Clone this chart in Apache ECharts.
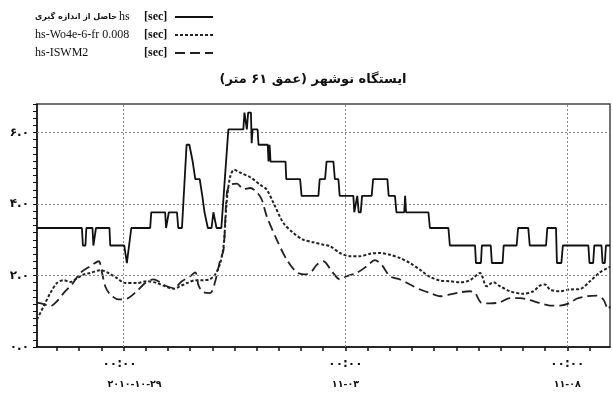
<!DOCTYPE html>
<html dir="ltr">
<head>
<meta charset="utf-8">
<script src="https://cdn.jsdelivr.net/npm/echarts@6/dist/echarts.min.js"></script>
<style>html,body{margin:0;padding:0;background:#fff}#c{width:613px;height:394px}</style>
</head>
<body>
<div id="c"></div>
<script>
// ---- text ----
const titleText = 'ایستگاه نوشهر (عمق ۶۱ متر)';
const seriesNames = ['hs حاصل از اندازه گیری', 'hs-Wo4e-6-fr 0.008', 'hs-ISWM2'];
const unitLabel = '[sec]';
// x values: hours relative to 2010-10-29 00:00
const xMin = -46.8, xMax = 263.1;
const xLabelHours = [0, 120, 240];
const xLabelTime = '۰۰:۰۰';
const xLabelDates = ['۲۰۱۰-۱۰-۲۹', '۱۱-۰۳', '۱۱-۰۸'];
const yMin = 0, yMax = 6.8;
const yLabelValues = [0, 2, 4, 6];

// ---- measured (solid) ----
const measuredHours = [-46.8,-22.5,-22.0,-20.6,-20.1,-16.8,-16.3,-15.4,-14.9,-7.6,-7.2,0.4,1.8,4.2,14.4,15.0,22.5,23.0,24.0,24.5,28.9,29.6,31.6,34.1,35.6,37.4,38.8,41.2,42.6,43.8,45.6,47.6,48.6,49.6,50.3,52.9,56.7,64.8,65.4,66.2,66.7,67.4,68.9,69.3,69.8,72.5,73.0,78.0,78.4,79.0,79.5,87.6,88.0,95.5,96.3,105.4,106.1,109.0,109.8,113.5,114.3,116.2,116.9,124.3,124.8,125.8,126.4,127.2,128.3,129.0,134.2,135.0,142.7,143.4,146.8,147.6,151.8,152.3,152.8,164.9,165.7,175.7,176.5,190.1,190.6,193.3,193.8,198.6,199.2,205.0,205.6,212.6,213.4,218.9,219.7,228.5,229.2,233.9,234.4,236.8,237.6,251.4,252.0,254.0,254.6,258.5,259.1,260.3,260.9,263.1];
const measuredValues = [3.33,3.33,2.84,2.84,3.33,3.33,2.84,2.84,3.33,3.33,2.84,2.84,2.35,3.33,3.33,3.77,3.77,3.33,3.33,3.77,3.77,3.33,3.33,5.66,5.66,5.19,4.70,4.70,4.23,3.77,3.33,3.33,3.77,3.77,3.33,3.33,6.09,6.09,6.56,6.56,6.09,6.56,6.56,5.70,6.09,6.09,5.66,5.66,5.19,5.66,5.19,5.19,4.70,4.70,4.23,4.23,4.70,4.70,5.19,5.19,4.70,4.70,4.23,4.23,3.77,3.77,4.23,3.77,3.77,4.23,4.23,4.70,4.70,4.23,4.23,3.77,3.77,4.23,3.77,3.77,3.33,3.33,2.84,2.84,2.35,2.35,2.84,2.84,2.35,2.35,2.84,2.84,3.33,3.33,2.84,2.84,3.33,3.33,2.35,2.35,2.84,2.84,2.35,2.35,2.84,2.84,2.35,2.35,2.84,2.84];

// ---- Wo4e model (fine dashes) ----
const wo4eHours = [-46.8,-43.2,-39.6,-36.0,-32.4,-28.8,-26.1,-21.6,-18.0,-12.6,-8.1,-3.6,0.9,7.2,12.6,18.0,22.5,27.0,30.6,34.3,38.8,43.3,46.9,49.6,52.3,54.1,55.9,57.7,59.8,63.1,68.5,73.9,77.5,81.1,86.5,91.9,97.3,102.7,108.1,111.7,117.1,122.5,127.9,133.3,138.7,144.1,149.5,154.9,160.4,165.8,171.2,176.6,182.0,187.4,192.8,196.4,200.0,203.6,209.0,216.2,221.6,225.2,227.9,230.6,236.0,241.4,246.8,252.3,257.7,263.1];
const wo4eValues = [0.77,1.14,1.51,1.79,1.87,1.82,1.89,2.03,2.07,2.15,2.07,1.93,1.79,1.79,1.84,1.79,1.70,1.63,1.70,1.79,1.87,1.87,1.90,2.03,2.35,2.82,4.12,4.77,4.96,4.88,4.75,4.54,4.40,4.03,3.47,3.19,3.00,2.93,2.86,2.82,2.63,2.54,2.54,2.61,2.63,2.58,2.49,2.35,2.16,1.96,1.86,1.84,1.81,1.87,2.07,1.70,1.81,1.70,1.56,1.49,1.56,1.72,1.75,1.61,1.56,1.61,1.62,1.84,2.09,2.24];

// ---- ISWM2 model (long dashes) ----
const iswmHours = [-46.8,-43.2,-39.6,-36.0,-32.4,-27.9,-23.4,-18.0,-13.5,-11.5,-9.9,-7.2,-2.7,1.8,7.2,11.7,16.2,19.8,23.4,27.0,31.6,36.0,38.8,40.6,43.3,46.9,49.6,52.3,54.1,55.9,57.7,61.3,64.9,68.5,72.1,74.8,77.5,82.9,88.3,93.7,98.2,101.8,104.5,108.1,112.6,117.1,120.7,126.1,131.5,136.0,139.6,144.1,149.5,154.9,160.4,165.8,171.2,176.6,182.0,187.4,190.1,193.7,198.2,203.6,209.0,214.4,219.8,225.2,230.6,236.0,241.4,245.0,250.4,255.9,259.5,262.2,263.1];
const iswmValues = [1.24,1.20,1.14,1.28,1.51,1.75,2.07,2.26,2.40,2.05,1.70,1.47,1.33,1.35,1.56,1.79,1.89,1.81,1.70,1.65,1.84,1.98,2.09,1.72,1.53,1.51,1.84,2.44,2.72,4.31,4.54,4.57,4.42,4.45,4.33,4.12,3.65,3.00,2.44,2.09,2.03,2.12,2.30,2.40,2.12,1.89,1.98,2.07,2.26,2.43,2.30,1.98,1.89,1.75,1.61,1.51,1.42,1.47,1.53,1.56,1.51,1.23,1.22,1.25,1.37,1.37,1.31,1.23,1.16,1.16,1.23,1.35,1.42,1.44,1.33,1.05,1.14];

const zip = (xs, ys) => xs.map((x, i) => [x, ys[i]]);
const fa = s => String(s).replace(/[0-9]/g, d => '۰۱۲۳۴۵۶۷۸۹'[d]);
const hasArabic = s => /[\u0600-\u06FF]/.test(s);
const xTickHours = [];
for (let h = -36; h <= 252; h += 12) xTickHours.push(h);

const chart = echarts.init(document.getElementById('c'), null, {renderer: 'canvas'});
const gridLineStyle = {color: '#8a8a8a', width: 1, type: [2, 2]};
chart.setOption({
  animation: false,
  backgroundColor: '#fff',
  title: {
    text: '\u200F' + titleText + '\u200F',
    left: 308, top: 68, textAlign: 'center',
    textStyle: {fontFamily: 'DejaVu Sans', fontWeight: 'bold', fontSize: 13, color: '#111'}
  },
  legend: {
    orient: 'vertical', left: 35, top: 11, align: 'right', padding: 0,
    itemWidth: 38, itemHeight: 13, itemGap: 6,
    itemStyle: {opacity: 0},
    data: seriesNames,
    formatter: name => {
      let body;
      if (hasArabic(name)) {
        const sp = name.indexOf(' ');
        body = '{a|' + name.slice(sp + 1) + '}{h|' + name.slice(0, sp) + '}';
      } else {
        body = '{n|' + name + '}';
      }
      return body + '{u|' + unitLabel + '}';
    },
    textStyle: {
      color: '#111', fontFamily: 'Liberation Serif', fontSize: 12,
      rich: {
        a: {width: 84, align: 'left', fontFamily: 'DejaVu Sans', fontWeight: 'bold', fontSize: 8, color: '#111'},
        h: {width: 25, align: 'left', fontFamily: 'Liberation Serif', fontSize: 12, color: '#111'},
        n: {width: 109, align: 'left', fontFamily: 'Liberation Serif', fontSize: 12, color: '#111'},
        u: {width: 26, align: 'left', fontFamily: 'Liberation Serif', fontSize: 12, fontWeight: 'bold', color: '#111'}
      }
    }
  },
  grid: {left: 37, right: 3, top: 104, bottom: 47, show: true, borderColor: '#444', borderWidth: 1.5, backgroundColor: 'transparent'},
  xAxis: {
    type: 'value', min: xMin, max: xMax,
    axisLine: {show: true, onZero: false, lineStyle: {color: '#111', width: 1.5}},
    axisTick: {show: true, length: 4, inside: false, customValues: xTickHours, lineStyle: {color: '#111', width: 1.5}},
    axisLabel: {
      customValues: xLabelHours, margin: 6,
      formatter: v => {
        const i = xLabelHours.indexOf(v);
        return i < 0 ? '' : '{' + (i === 0 ? 't0' : 't') + '|' + xLabelTime + '}\n{' + (i === 0 ? 'd0' : 'd') + '|' + xLabelDates[i] + '}';
      },
      rich: {
        t: {fontFamily: 'DejaVu Sans', fontWeight: 'bold', fontSize: 12, color: '#111', lineHeight: 21},
        t0: {fontFamily: 'DejaVu Sans', fontWeight: 'bold', fontSize: 12, color: '#111', lineHeight: 21, padding: [0, 8, 0, 0]},
        d: {fontFamily: 'DejaVu Sans', fontWeight: 'bold', fontSize: 9.5, color: '#111', lineHeight: 21},
        d0: {fontFamily: 'DejaVu Sans', fontWeight: 'bold', fontSize: 9.5, color: '#111', lineHeight: 21, padding: [0, 0, 0, 22]}
      }
    },
    splitLine: {show: false}
  },
  yAxis: {
    type: 'value', min: yMin, max: yMax, interval: 0.2,
    axisLine: {show: true, onZero: false, lineStyle: {color: '#111', width: 1.5}},
    axisTick: {show: true, length: 4, lineStyle: {color: '#111', width: 1}},
    axisLabel: {
      margin: 8, fontFamily: 'DejaVu Sans', fontWeight: 'bold', fontSize: 12, color: '#111',
      formatter: v => yLabelValues.some(t => Math.abs(t - v) < 1e-6) ? fa(v.toFixed(1)) : ''
    },
    splitLine: {show: false}
  },
  series: [
    {
      name: seriesNames[0], type: 'line', data: zip(measuredHours, measuredValues),
      symbol: 'none', lineStyle: {color: '#111', width: 1.8, type: 'solid'}, itemStyle: {color: '#111'},
      z: 5,
      markLine: {
        silent: true, symbol: 'none', label: {show: false}, animation: false,
        lineStyle: gridLineStyle, emphasis: {disabled: true},
        data: xLabelHours.map(h => ({xAxis: h})).concat([2, 4, 6].map(v => ({yAxis: v})))
      }
    },
    {
      name: seriesNames[1], type: 'line', data: zip(wo4eHours, wo4eValues), smooth: 0.3,
      symbol: 'none', lineStyle: {color: '#222', width: 2, type: [3, 2]}, itemStyle: {color: '#222'}, z: 4
    },
    {
      name: seriesNames[2], type: 'line', data: zip(iswmHours, iswmValues), smooth: 0.3,
      symbol: 'none', lineStyle: {color: '#222', width: 1.8, type: [10, 5]}, itemStyle: {color: '#222'}, z: 3
    }
  ]
});
</script>
</body>
</html>
